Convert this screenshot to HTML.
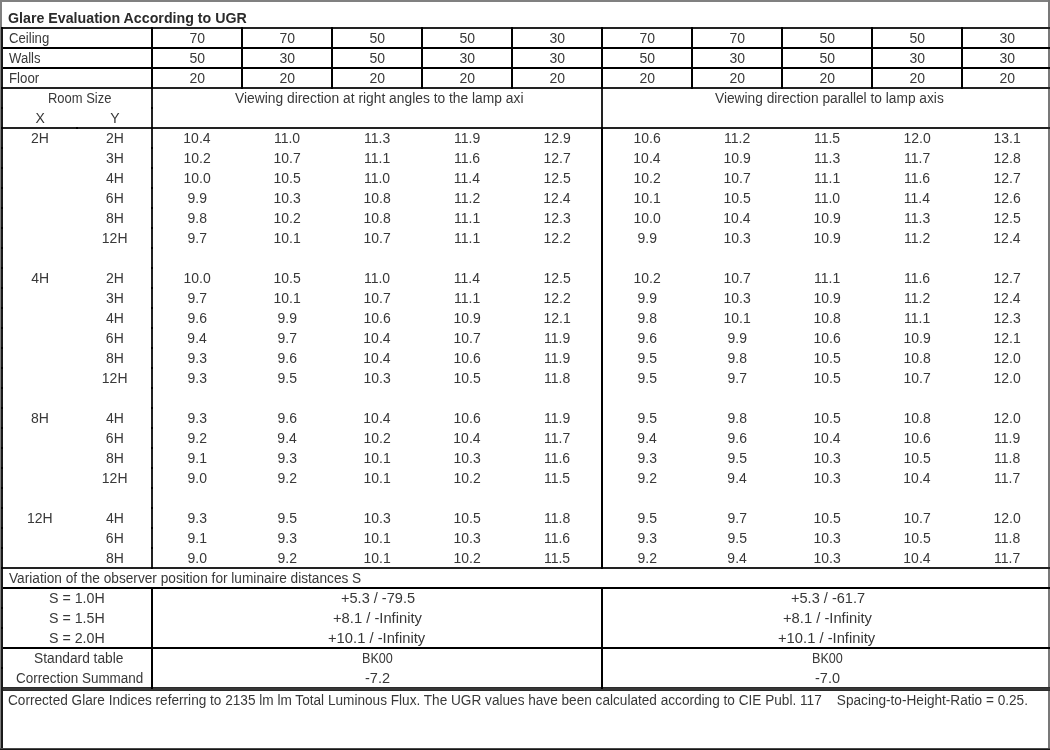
<!DOCTYPE html>
<html><head><meta charset="utf-8"><style>
html,body{margin:0;padding:0;background:#fff;}
body{width:1050px;height:750px;position:relative;overflow:hidden;}
.l{position:absolute;}
.t{position:absolute;white-space:pre;font-family:"Liberation Sans",sans-serif;font-size:14px;line-height:20px;color:#383838;transform-origin:0 0;}
.w{position:absolute;left:0;top:0;width:1050px;height:750px;will-change:transform;}
.b{font-weight:bold;color:#2b2b2b;}
</style></head><body>
<div class="l" style="left:0px;top:0px;width:1050px;height:2px;background:#808080"></div>
<div class="l" style="left:0px;top:0px;width:2px;height:750px;background:#808080"></div>
<div class="l" style="left:1048px;top:0px;width:2px;height:748px;background:#787878"></div>
<div class="l" style="left:1px;top:27px;width:1049px;height:2px;background:#222"></div>
<div class="l" style="left:1px;top:87px;width:1049px;height:2px;background:#222"></div>
<div class="l" style="left:1px;top:127px;width:1049px;height:2px;background:#222"></div>
<div class="l" style="left:1px;top:567px;width:1049px;height:2px;background:#222"></div>
<div class="l" style="left:151px;top:89px;width:2px;height:478px;background:#222"></div>
<div class="l" style="left:601px;top:89px;width:2px;height:38px;background:#222"></div>
<div class="l" style="left:1px;top:47px;width:1049px;height:2px;background:#000"></div>
<div class="l" style="left:1px;top:67px;width:1049px;height:2px;background:#000"></div>
<div class="l" style="left:1px;top:587px;width:1049px;height:2px;background:#000"></div>
<div class="l" style="left:1px;top:647px;width:1049px;height:2px;background:#000"></div>
<div class="l" style="left:1px;top:687px;width:1049px;height:4px;background:#373737"></div>
<div class="l" style="left:1px;top:687px;width:1049px;height:1px;background:#2c2c2c"></div>
<div class="l" style="left:1px;top:690px;width:1049px;height:1px;background:#2c2c2c"></div>
<div class="l" style="left:1px;top:27px;width:2px;height:723px;background:#1a1a1a"></div>
<div class="l" style="left:151px;top:27px;width:2px;height:62px;background:#000"></div>
<div class="l" style="left:241px;top:27px;width:2px;height:62px;background:#000"></div>
<div class="l" style="left:331px;top:27px;width:2px;height:62px;background:#000"></div>
<div class="l" style="left:421px;top:27px;width:2px;height:62px;background:#000"></div>
<div class="l" style="left:511px;top:27px;width:2px;height:62px;background:#000"></div>
<div class="l" style="left:601px;top:27px;width:2px;height:62px;background:#000"></div>
<div class="l" style="left:691px;top:27px;width:2px;height:62px;background:#000"></div>
<div class="l" style="left:781px;top:27px;width:2px;height:62px;background:#000"></div>
<div class="l" style="left:871px;top:27px;width:2px;height:62px;background:#000"></div>
<div class="l" style="left:961px;top:27px;width:2px;height:62px;background:#000"></div>
<div class="l" style="left:601px;top:129px;width:2px;height:438px;background:#000"></div>
<div class="l" style="left:151px;top:587px;width:2px;height:102px;background:#000"></div>
<div class="l" style="left:601px;top:587px;width:2px;height:102px;background:#000"></div>
<div class="l" style="left:151px;top:127px;width:2px;height:2px;background:#000"></div>
<div class="l" style="left:601px;top:127px;width:2px;height:2px;background:#000"></div>
<div class="l" style="left:151px;top:567px;width:2px;height:2px;background:#000"></div>
<div class="l" style="left:601px;top:567px;width:2px;height:2px;background:#000"></div>
<div class="l" style="left:1px;top:127px;width:2px;height:2px;background:#000"></div>
<div class="l" style="left:1px;top:567px;width:2px;height:2px;background:#000"></div>
<div class="l" style="left:1px;top:27px;width:2px;height:2px;background:#000"></div>
<div class="l" style="left:1px;top:87px;width:2px;height:2px;background:#000"></div>
<div class="l" style="left:151px;top:87px;width:2px;height:2px;background:#000"></div>
<div class="l" style="left:601px;top:87px;width:2px;height:2px;background:#000"></div>
<div class="l" style="left:1px;top:107px;width:2px;height:2px;background:#000"></div>
<div class="l" style="left:151px;top:107px;width:2px;height:2px;background:#000"></div>
<div class="l" style="left:1px;top:147px;width:2px;height:2px;background:#000"></div>
<div class="l" style="left:151px;top:147px;width:2px;height:2px;background:#000"></div>
<div class="l" style="left:1px;top:167px;width:2px;height:2px;background:#000"></div>
<div class="l" style="left:151px;top:167px;width:2px;height:2px;background:#000"></div>
<div class="l" style="left:1px;top:187px;width:2px;height:2px;background:#000"></div>
<div class="l" style="left:151px;top:187px;width:2px;height:2px;background:#000"></div>
<div class="l" style="left:1px;top:207px;width:2px;height:2px;background:#000"></div>
<div class="l" style="left:151px;top:207px;width:2px;height:2px;background:#000"></div>
<div class="l" style="left:1px;top:227px;width:2px;height:2px;background:#000"></div>
<div class="l" style="left:151px;top:227px;width:2px;height:2px;background:#000"></div>
<div class="l" style="left:1px;top:247px;width:2px;height:2px;background:#000"></div>
<div class="l" style="left:151px;top:247px;width:2px;height:2px;background:#000"></div>
<div class="l" style="left:1px;top:267px;width:2px;height:2px;background:#000"></div>
<div class="l" style="left:151px;top:267px;width:2px;height:2px;background:#000"></div>
<div class="l" style="left:1px;top:287px;width:2px;height:2px;background:#000"></div>
<div class="l" style="left:151px;top:287px;width:2px;height:2px;background:#000"></div>
<div class="l" style="left:1px;top:307px;width:2px;height:2px;background:#000"></div>
<div class="l" style="left:151px;top:307px;width:2px;height:2px;background:#000"></div>
<div class="l" style="left:1px;top:327px;width:2px;height:2px;background:#000"></div>
<div class="l" style="left:151px;top:327px;width:2px;height:2px;background:#000"></div>
<div class="l" style="left:1px;top:347px;width:2px;height:2px;background:#000"></div>
<div class="l" style="left:151px;top:347px;width:2px;height:2px;background:#000"></div>
<div class="l" style="left:1px;top:367px;width:2px;height:2px;background:#000"></div>
<div class="l" style="left:151px;top:367px;width:2px;height:2px;background:#000"></div>
<div class="l" style="left:1px;top:387px;width:2px;height:2px;background:#000"></div>
<div class="l" style="left:151px;top:387px;width:2px;height:2px;background:#000"></div>
<div class="l" style="left:1px;top:407px;width:2px;height:2px;background:#000"></div>
<div class="l" style="left:151px;top:407px;width:2px;height:2px;background:#000"></div>
<div class="l" style="left:1px;top:427px;width:2px;height:2px;background:#000"></div>
<div class="l" style="left:151px;top:427px;width:2px;height:2px;background:#000"></div>
<div class="l" style="left:1px;top:447px;width:2px;height:2px;background:#000"></div>
<div class="l" style="left:151px;top:447px;width:2px;height:2px;background:#000"></div>
<div class="l" style="left:1px;top:467px;width:2px;height:2px;background:#000"></div>
<div class="l" style="left:151px;top:467px;width:2px;height:2px;background:#000"></div>
<div class="l" style="left:1px;top:487px;width:2px;height:2px;background:#000"></div>
<div class="l" style="left:151px;top:487px;width:2px;height:2px;background:#000"></div>
<div class="l" style="left:1px;top:507px;width:2px;height:2px;background:#000"></div>
<div class="l" style="left:151px;top:507px;width:2px;height:2px;background:#000"></div>
<div class="l" style="left:1px;top:527px;width:2px;height:2px;background:#000"></div>
<div class="l" style="left:151px;top:527px;width:2px;height:2px;background:#000"></div>
<div class="l" style="left:1px;top:547px;width:2px;height:2px;background:#000"></div>
<div class="l" style="left:151px;top:547px;width:2px;height:2px;background:#000"></div>
<div class="l" style="left:1px;top:607px;width:2px;height:2px;background:#000"></div>
<div class="l" style="left:1px;top:627px;width:2px;height:2px;background:#000"></div>
<div class="l" style="left:1px;top:667px;width:2px;height:2px;background:#000"></div>
<div class="l" style="left:76px;top:127px;width:2px;height:2px;background:#000"></div>
<div class="l" style="left:0px;top:748px;width:1050px;height:1px;background:#4a4a4a"></div>
<div class="l" style="left:0px;top:749px;width:1050px;height:1px;background:#151515"></div>
<div class="w">
<div class="t b" style="left:7.94px;top:8px;transform:scaleX(1.0153)">Glare Evaluation According to UGR</div>
<div class="t" style="left:8.58px;top:28px;transform:scaleX(0.9398)">Ceiling</div>
<div class="t" style="left:8.89px;top:48px;transform:scaleX(0.9369)">Walls</div>
<div class="t" style="left:8.89px;top:68px;transform:scaleX(0.9477)">Floor</div>
<div class="t" style="left:189.58px;top:28px">70</div>
<div class="t" style="left:189.53px;top:48px">50</div>
<div class="t" style="left:189.59px;top:68px">20</div>
<div class="t" style="left:279.58px;top:28px">70</div>
<div class="t" style="left:279.58px;top:48px">30</div>
<div class="t" style="left:279.59px;top:68px">20</div>
<div class="t" style="left:369.53px;top:28px">50</div>
<div class="t" style="left:369.53px;top:48px">50</div>
<div class="t" style="left:369.59px;top:68px">20</div>
<div class="t" style="left:459.53px;top:28px">50</div>
<div class="t" style="left:459.58px;top:48px">30</div>
<div class="t" style="left:459.59px;top:68px">20</div>
<div class="t" style="left:549.58px;top:28px">30</div>
<div class="t" style="left:549.58px;top:48px">30</div>
<div class="t" style="left:549.59px;top:68px">20</div>
<div class="t" style="left:639.58px;top:28px">70</div>
<div class="t" style="left:639.53px;top:48px">50</div>
<div class="t" style="left:639.59px;top:68px">20</div>
<div class="t" style="left:729.58px;top:28px">70</div>
<div class="t" style="left:729.58px;top:48px">30</div>
<div class="t" style="left:729.59px;top:68px">20</div>
<div class="t" style="left:819.53px;top:28px">50</div>
<div class="t" style="left:819.53px;top:48px">50</div>
<div class="t" style="left:819.59px;top:68px">20</div>
<div class="t" style="left:909.53px;top:28px">50</div>
<div class="t" style="left:909.58px;top:48px">30</div>
<div class="t" style="left:909.59px;top:68px">20</div>
<div class="t" style="left:999.58px;top:28px">30</div>
<div class="t" style="left:999.58px;top:48px">30</div>
<div class="t" style="left:999.59px;top:68px">20</div>
<div class="t" style="left:47.51px;top:88px;transform:scaleX(0.9253)">Room Size</div>
<div class="t" style="left:35.41px;top:108px">X</div>
<div class="t" style="left:110.23px;top:108px">Y</div>
<div class="t" style="left:234.73px;top:88px;transform:scaleX(0.9868)">Viewing direction at right angles to the lamp axi</div>
<div class="t" style="left:714.73px;top:88px;transform:scaleX(0.9810)">Viewing direction parallel to lamp axis</div>
<div class="t" style="left:31.00px;top:128px">2H</div>
<div class="t" style="left:105.90px;top:128px">2H</div>
<div class="t" style="left:183.33px;top:128px">10.4</div>
<div class="t" style="left:273.93px;top:128px">11.0</div>
<div class="t" style="left:363.97px;top:128px">11.3</div>
<div class="t" style="left:453.97px;top:128px">11.9</div>
<div class="t" style="left:543.47px;top:128px">12.9</div>
<div class="t" style="left:633.45px;top:128px">10.6</div>
<div class="t" style="left:723.98px;top:128px">11.2</div>
<div class="t" style="left:813.94px;top:128px">11.5</div>
<div class="t" style="left:903.43px;top:128px">12.0</div>
<div class="t" style="left:993.46px;top:128px">13.1</div>
<div class="t" style="left:105.89px;top:148px">3H</div>
<div class="t" style="left:183.48px;top:148px">10.2</div>
<div class="t" style="left:273.48px;top:148px">10.7</div>
<div class="t" style="left:363.96px;top:148px">11.1</div>
<div class="t" style="left:453.95px;top:148px">11.6</div>
<div class="t" style="left:543.48px;top:148px">12.7</div>
<div class="t" style="left:633.33px;top:148px">10.4</div>
<div class="t" style="left:723.47px;top:148px">10.9</div>
<div class="t" style="left:813.97px;top:148px">11.3</div>
<div class="t" style="left:903.98px;top:148px">11.7</div>
<div class="t" style="left:993.47px;top:148px">12.8</div>
<div class="t" style="left:106.08px;top:168px">4H</div>
<div class="t" style="left:183.43px;top:168px">10.0</div>
<div class="t" style="left:273.44px;top:168px">10.5</div>
<div class="t" style="left:363.93px;top:168px">11.0</div>
<div class="t" style="left:453.83px;top:168px">11.4</div>
<div class="t" style="left:543.44px;top:168px">12.5</div>
<div class="t" style="left:633.48px;top:168px">10.2</div>
<div class="t" style="left:723.48px;top:168px">10.7</div>
<div class="t" style="left:813.96px;top:168px">11.1</div>
<div class="t" style="left:903.95px;top:168px">11.6</div>
<div class="t" style="left:993.48px;top:168px">12.7</div>
<div class="t" style="left:105.87px;top:188px">6H</div>
<div class="t" style="left:187.52px;top:188px">9.9</div>
<div class="t" style="left:273.47px;top:188px">10.3</div>
<div class="t" style="left:363.47px;top:188px">10.8</div>
<div class="t" style="left:453.98px;top:188px">11.2</div>
<div class="t" style="left:543.33px;top:188px">12.4</div>
<div class="t" style="left:633.46px;top:188px">10.1</div>
<div class="t" style="left:723.44px;top:188px">10.5</div>
<div class="t" style="left:813.93px;top:188px">11.0</div>
<div class="t" style="left:903.83px;top:188px">11.4</div>
<div class="t" style="left:993.45px;top:188px">12.6</div>
<div class="t" style="left:105.91px;top:208px">8H</div>
<div class="t" style="left:187.52px;top:208px">9.8</div>
<div class="t" style="left:273.48px;top:208px">10.2</div>
<div class="t" style="left:363.47px;top:208px">10.8</div>
<div class="t" style="left:453.96px;top:208px">11.1</div>
<div class="t" style="left:543.47px;top:208px">12.3</div>
<div class="t" style="left:633.43px;top:208px">10.0</div>
<div class="t" style="left:723.33px;top:208px">10.4</div>
<div class="t" style="left:813.47px;top:208px">10.9</div>
<div class="t" style="left:903.97px;top:208px">11.3</div>
<div class="t" style="left:993.44px;top:208px">12.5</div>
<div class="t" style="left:101.83px;top:228px">12H</div>
<div class="t" style="left:187.53px;top:228px">9.7</div>
<div class="t" style="left:273.46px;top:228px">10.1</div>
<div class="t" style="left:363.48px;top:228px">10.7</div>
<div class="t" style="left:453.96px;top:228px">11.1</div>
<div class="t" style="left:543.48px;top:228px">12.2</div>
<div class="t" style="left:637.52px;top:228px">9.9</div>
<div class="t" style="left:723.47px;top:228px">10.3</div>
<div class="t" style="left:813.47px;top:228px">10.9</div>
<div class="t" style="left:903.98px;top:228px">11.2</div>
<div class="t" style="left:993.33px;top:228px">12.4</div>
<div class="t" style="left:31.18px;top:268px">4H</div>
<div class="t" style="left:105.90px;top:268px">2H</div>
<div class="t" style="left:183.43px;top:268px">10.0</div>
<div class="t" style="left:273.44px;top:268px">10.5</div>
<div class="t" style="left:363.93px;top:268px">11.0</div>
<div class="t" style="left:453.83px;top:268px">11.4</div>
<div class="t" style="left:543.44px;top:268px">12.5</div>
<div class="t" style="left:633.48px;top:268px">10.2</div>
<div class="t" style="left:723.48px;top:268px">10.7</div>
<div class="t" style="left:813.96px;top:268px">11.1</div>
<div class="t" style="left:903.95px;top:268px">11.6</div>
<div class="t" style="left:993.48px;top:268px">12.7</div>
<div class="t" style="left:105.89px;top:288px">3H</div>
<div class="t" style="left:187.53px;top:288px">9.7</div>
<div class="t" style="left:273.46px;top:288px">10.1</div>
<div class="t" style="left:363.48px;top:288px">10.7</div>
<div class="t" style="left:453.96px;top:288px">11.1</div>
<div class="t" style="left:543.48px;top:288px">12.2</div>
<div class="t" style="left:637.52px;top:288px">9.9</div>
<div class="t" style="left:723.47px;top:288px">10.3</div>
<div class="t" style="left:813.47px;top:288px">10.9</div>
<div class="t" style="left:903.98px;top:288px">11.2</div>
<div class="t" style="left:993.33px;top:288px">12.4</div>
<div class="t" style="left:106.08px;top:308px">4H</div>
<div class="t" style="left:187.50px;top:308px">9.6</div>
<div class="t" style="left:277.52px;top:308px">9.9</div>
<div class="t" style="left:363.45px;top:308px">10.6</div>
<div class="t" style="left:453.47px;top:308px">10.9</div>
<div class="t" style="left:543.46px;top:308px">12.1</div>
<div class="t" style="left:637.52px;top:308px">9.8</div>
<div class="t" style="left:723.46px;top:308px">10.1</div>
<div class="t" style="left:813.47px;top:308px">10.8</div>
<div class="t" style="left:903.96px;top:308px">11.1</div>
<div class="t" style="left:993.47px;top:308px">12.3</div>
<div class="t" style="left:105.87px;top:328px">6H</div>
<div class="t" style="left:187.37px;top:328px">9.4</div>
<div class="t" style="left:277.53px;top:328px">9.7</div>
<div class="t" style="left:363.33px;top:328px">10.4</div>
<div class="t" style="left:453.48px;top:328px">10.7</div>
<div class="t" style="left:543.97px;top:328px">11.9</div>
<div class="t" style="left:637.50px;top:328px">9.6</div>
<div class="t" style="left:727.52px;top:328px">9.9</div>
<div class="t" style="left:813.45px;top:328px">10.6</div>
<div class="t" style="left:903.47px;top:328px">10.9</div>
<div class="t" style="left:993.46px;top:328px">12.1</div>
<div class="t" style="left:105.91px;top:348px">8H</div>
<div class="t" style="left:187.52px;top:348px">9.3</div>
<div class="t" style="left:277.50px;top:348px">9.6</div>
<div class="t" style="left:363.33px;top:348px">10.4</div>
<div class="t" style="left:453.45px;top:348px">10.6</div>
<div class="t" style="left:543.97px;top:348px">11.9</div>
<div class="t" style="left:637.48px;top:348px">9.5</div>
<div class="t" style="left:727.52px;top:348px">9.8</div>
<div class="t" style="left:813.44px;top:348px">10.5</div>
<div class="t" style="left:903.47px;top:348px">10.8</div>
<div class="t" style="left:993.43px;top:348px">12.0</div>
<div class="t" style="left:101.83px;top:368px">12H</div>
<div class="t" style="left:187.52px;top:368px">9.3</div>
<div class="t" style="left:277.48px;top:368px">9.5</div>
<div class="t" style="left:363.47px;top:368px">10.3</div>
<div class="t" style="left:453.44px;top:368px">10.5</div>
<div class="t" style="left:543.97px;top:368px">11.8</div>
<div class="t" style="left:637.48px;top:368px">9.5</div>
<div class="t" style="left:727.53px;top:368px">9.7</div>
<div class="t" style="left:813.44px;top:368px">10.5</div>
<div class="t" style="left:903.48px;top:368px">10.7</div>
<div class="t" style="left:993.43px;top:368px">12.0</div>
<div class="t" style="left:31.01px;top:408px">8H</div>
<div class="t" style="left:106.08px;top:408px">4H</div>
<div class="t" style="left:187.52px;top:408px">9.3</div>
<div class="t" style="left:277.50px;top:408px">9.6</div>
<div class="t" style="left:363.33px;top:408px">10.4</div>
<div class="t" style="left:453.45px;top:408px">10.6</div>
<div class="t" style="left:543.97px;top:408px">11.9</div>
<div class="t" style="left:637.48px;top:408px">9.5</div>
<div class="t" style="left:727.52px;top:408px">9.8</div>
<div class="t" style="left:813.44px;top:408px">10.5</div>
<div class="t" style="left:903.47px;top:408px">10.8</div>
<div class="t" style="left:993.43px;top:408px">12.0</div>
<div class="t" style="left:105.87px;top:428px">6H</div>
<div class="t" style="left:187.53px;top:428px">9.2</div>
<div class="t" style="left:277.37px;top:428px">9.4</div>
<div class="t" style="left:363.48px;top:428px">10.2</div>
<div class="t" style="left:453.33px;top:428px">10.4</div>
<div class="t" style="left:543.98px;top:428px">11.7</div>
<div class="t" style="left:637.37px;top:428px">9.4</div>
<div class="t" style="left:727.50px;top:428px">9.6</div>
<div class="t" style="left:813.33px;top:428px">10.4</div>
<div class="t" style="left:903.45px;top:428px">10.6</div>
<div class="t" style="left:993.97px;top:428px">11.9</div>
<div class="t" style="left:105.91px;top:448px">8H</div>
<div class="t" style="left:187.51px;top:448px">9.1</div>
<div class="t" style="left:277.52px;top:448px">9.3</div>
<div class="t" style="left:363.46px;top:448px">10.1</div>
<div class="t" style="left:453.47px;top:448px">10.3</div>
<div class="t" style="left:543.95px;top:448px">11.6</div>
<div class="t" style="left:637.52px;top:448px">9.3</div>
<div class="t" style="left:727.48px;top:448px">9.5</div>
<div class="t" style="left:813.47px;top:448px">10.3</div>
<div class="t" style="left:903.44px;top:448px">10.5</div>
<div class="t" style="left:993.97px;top:448px">11.8</div>
<div class="t" style="left:101.83px;top:468px">12H</div>
<div class="t" style="left:187.47px;top:468px">9.0</div>
<div class="t" style="left:277.53px;top:468px">9.2</div>
<div class="t" style="left:363.46px;top:468px">10.1</div>
<div class="t" style="left:453.48px;top:468px">10.2</div>
<div class="t" style="left:543.94px;top:468px">11.5</div>
<div class="t" style="left:637.53px;top:468px">9.2</div>
<div class="t" style="left:727.37px;top:468px">9.4</div>
<div class="t" style="left:813.47px;top:468px">10.3</div>
<div class="t" style="left:903.33px;top:468px">10.4</div>
<div class="t" style="left:993.98px;top:468px">11.7</div>
<div class="t" style="left:26.93px;top:508px">12H</div>
<div class="t" style="left:106.08px;top:508px">4H</div>
<div class="t" style="left:187.52px;top:508px">9.3</div>
<div class="t" style="left:277.48px;top:508px">9.5</div>
<div class="t" style="left:363.47px;top:508px">10.3</div>
<div class="t" style="left:453.44px;top:508px">10.5</div>
<div class="t" style="left:543.97px;top:508px">11.8</div>
<div class="t" style="left:637.48px;top:508px">9.5</div>
<div class="t" style="left:727.53px;top:508px">9.7</div>
<div class="t" style="left:813.44px;top:508px">10.5</div>
<div class="t" style="left:903.48px;top:508px">10.7</div>
<div class="t" style="left:993.43px;top:508px">12.0</div>
<div class="t" style="left:105.87px;top:528px">6H</div>
<div class="t" style="left:187.51px;top:528px">9.1</div>
<div class="t" style="left:277.52px;top:528px">9.3</div>
<div class="t" style="left:363.46px;top:528px">10.1</div>
<div class="t" style="left:453.47px;top:528px">10.3</div>
<div class="t" style="left:543.95px;top:528px">11.6</div>
<div class="t" style="left:637.52px;top:528px">9.3</div>
<div class="t" style="left:727.48px;top:528px">9.5</div>
<div class="t" style="left:813.47px;top:528px">10.3</div>
<div class="t" style="left:903.44px;top:528px">10.5</div>
<div class="t" style="left:993.97px;top:528px">11.8</div>
<div class="t" style="left:105.91px;top:548px">8H</div>
<div class="t" style="left:187.47px;top:548px">9.0</div>
<div class="t" style="left:277.53px;top:548px">9.2</div>
<div class="t" style="left:363.46px;top:548px">10.1</div>
<div class="t" style="left:453.48px;top:548px">10.2</div>
<div class="t" style="left:543.94px;top:548px">11.5</div>
<div class="t" style="left:637.53px;top:548px">9.2</div>
<div class="t" style="left:727.37px;top:548px">9.4</div>
<div class="t" style="left:813.47px;top:548px">10.3</div>
<div class="t" style="left:903.33px;top:548px">10.4</div>
<div class="t" style="left:993.98px;top:548px">11.7</div>
<div class="t" style="left:8.63px;top:568px;transform:scaleX(0.9762)">Variation of the observer position for luminaire distances S</div>
<div class="t" style="left:49.12px;top:588px;transform:scaleX(1.0145)">S = 1.0H</div>
<div class="t" style="left:49.12px;top:608px;transform:scaleX(1.0145)">S = 1.5H</div>
<div class="t" style="left:49.12px;top:628px;transform:scaleX(1.0145)">S = 2.0H</div>
<div class="t" style="left:34.15px;top:648px;transform:scaleX(0.9821)">Standard table</div>
<div class="t" style="left:15.67px;top:668px;transform:scaleX(0.9625)">Correction Summand</div>
<div class="t" style="left:340.58px;top:588px;transform:scaleX(1.0392)">+5.3 / -79.5</div>
<div class="t" style="left:332.57px;top:608px;transform:scaleX(1.0527)">+8.1 / -Infinity</div>
<div class="t" style="left:328.27px;top:628px;transform:scaleX(1.0539)">+10.1 / -Infinity</div>
<div class="t" style="left:361.64px;top:648px;transform:scaleX(0.9017)">BK00</div>
<div class="t" style="left:365.04px;top:668px;transform:scaleX(1.0401)">-7.2</div>
<div class="t" style="left:790.58px;top:588px;transform:scaleX(1.0404)">+5.3 / -61.7</div>
<div class="t" style="left:782.57px;top:608px;transform:scaleX(1.0527)">+8.1 / -Infinity</div>
<div class="t" style="left:778.27px;top:628px;transform:scaleX(1.0539)">+10.1 / -Infinity</div>
<div class="t" style="left:811.64px;top:648px;transform:scaleX(0.9017)">BK00</div>
<div class="t" style="left:815.04px;top:668px;transform:scaleX(1.0353)">-7.0</div>
<div class="t" style="left:8.36px;top:690px;transform:scaleX(0.9727)">Corrected Glare Indices referring to 2135 lm lm Total Luminous Flux. The UGR values have been calculated according to CIE Publ. 117    Spacing-to-Height-Ratio = 0.25.</div>
</div>
</body></html>
